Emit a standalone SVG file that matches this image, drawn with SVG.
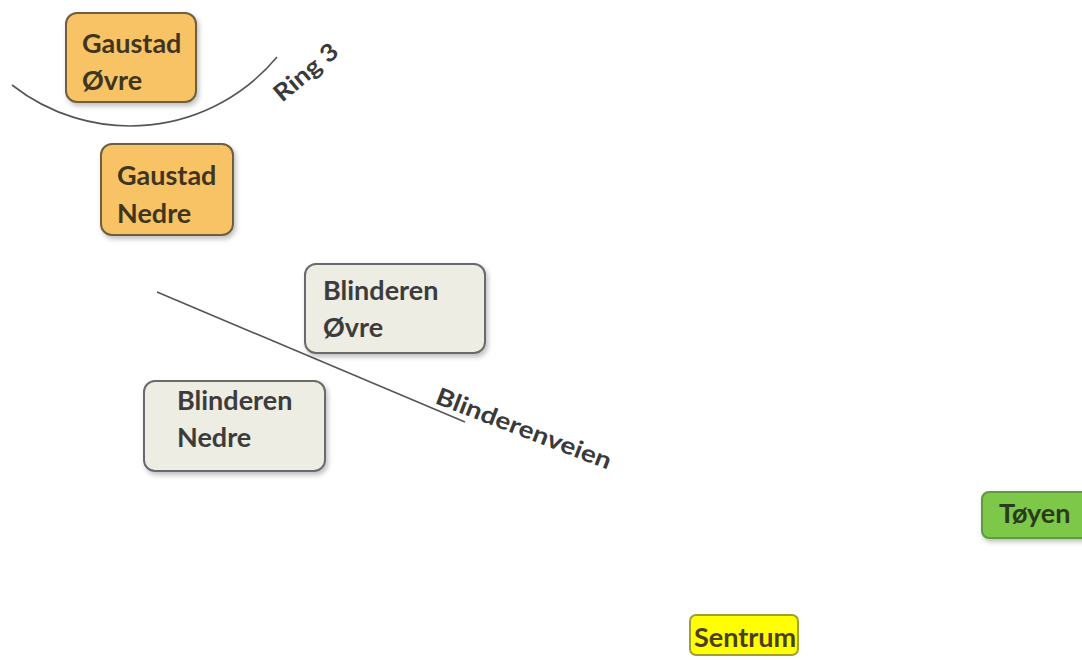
<svg xmlns="http://www.w3.org/2000/svg" width="1082" height="660" viewBox="0 0 1082 660">
<style>
.box{stroke-width:2;filter:url(#sh)}
.t{font-family:Lato,"Liberation Sans",sans-serif;font-weight:bold;font-size:27px}
.g rect{fill:#F8C365;stroke:#6E5E40}
.g text{fill:#3F3520}
.b rect{fill:#EEEDE4;stroke:#6B6B6B}
.b text{fill:#3C3C3C}
.road{fill:none;stroke:#555;stroke-width:1.6}
.lbl{font-family:Lato,"Liberation Sans",sans-serif;font-weight:bold;fill:#3A3A3A}
</style>
<defs>
<filter id="sh" x="-20%" y="-20%" width="140%" height="150%">
<feDropShadow dx="2" dy="3" stdDeviation="2.5" flood-color="#000" flood-opacity="0.25"/>
</filter>
</defs>
<rect width="1082" height="660" fill="#fff"/>
<g id="roads">
<path class="road" d="M12,85 A191,191 0 0 0 277,57"/>
<line class="road" x1="157" y1="292" x2="465" y2="422"/>
<text class="lbl" font-size="24" transform="translate(282,103) rotate(-40)" textLength="76" lengthAdjust="spacingAndGlyphs">Ring 3</text>
<text class="lbl" font-size="24" transform="translate(434,403) rotate(21)" textLength="186" lengthAdjust="spacingAndGlyphs">Blinderenveien</text>
</g>
<g id="gaustad-ovre" class="g">
<rect class="box" x="66" y="13" width="130" height="89" rx="11"/>
<text class="t" x="82" y="53">Gaustad</text>
<text class="t" x="82" y="90">Øvre</text>
</g>
<g id="gaustad-nedre" class="g">
<rect class="box" x="101" y="144" width="132" height="91" rx="11"/>
<text class="t" x="117" y="185">Gaustad</text>
<text class="t" x="117" y="223">Nedre</text>
</g>
<g id="blinderen-ovre" class="b">
<rect class="box" x="305" y="264" width="180" height="89" rx="11"/>
<text class="t" x="323" y="300">Blinderen</text>
<text class="t" x="323" y="337">Øvre</text>
</g>
<g id="blinderen-nedre" class="b">
<rect class="box" x="144" y="381" width="181" height="90" rx="11"/>
<text class="t" x="177" y="410">Blinderen</text>
<text class="t" x="177" y="447">Nedre</text>
</g>
<g id="toyen">
<rect class="box" x="982" y="492" width="110" height="46" rx="7" fill="#7DC84A" stroke="#5E9A3A"/>
<text class="t" x="999" y="523" font-size="25" fill="#2A3A1A">Tøyen</text>
</g>
<g id="sentrum">
<rect class="box" x="690" y="615" width="108" height="40" rx="6" fill="#FFFF00" stroke="#A0A030" style="filter:none"/>
<text class="t" x="694" y="647" font-size="25" fill="#4A4020">Sentrum</text>
</g>
</svg>
